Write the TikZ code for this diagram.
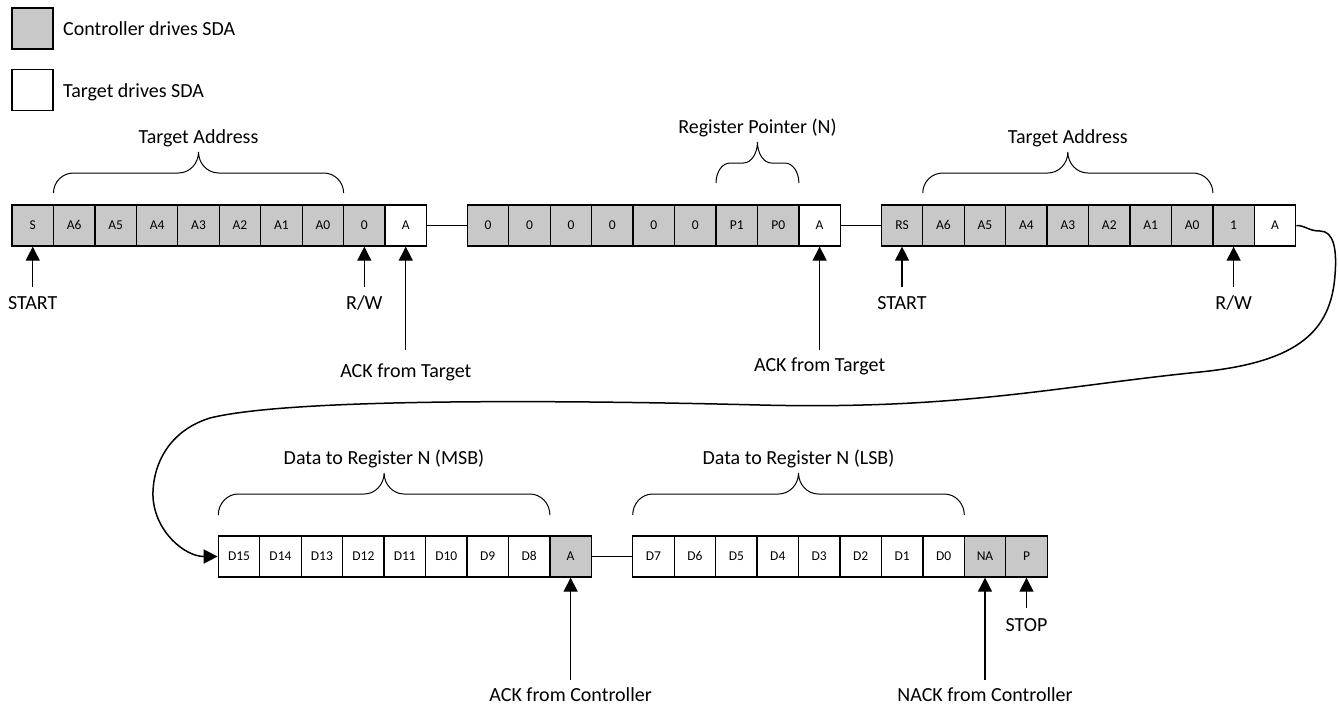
\documentclass[tikz,border=0pt]{standalone}
\usepackage{fontspec}
\setmainfont{Carlito}
\usetikzlibrary{arrows.meta,calc}
\definecolor{cgray}{RGB}{200,200,200}
% brace: xL, xR, yb (ends), ys (straight part), yt (tip), r (corner radius)
\newcommand\drawbrace[6]{%
  \pgfmathsetmacro\bxm{(#1+#2)/2}%
  \pgfmathsetmacro\bhA{0.552*(#3-#4)}%
  \pgfmathsetmacro\bhB{0.552*(#4-#5)}%
  \pgfmathsetmacro\bk{0.552*#6}%
  \draw[brc] (#1,#3) .. controls (#1,#3-\bhA) and ({#1+#6-\bk},#4) .. ({#1+#6},#4)
    -- ({\bxm-#6},#4)
    .. controls ({\bxm-#6+\bk},#4) and (\bxm,{#5+\bhB}) .. (\bxm,#5)
    .. controls (\bxm,{#5+\bhB}) and ({\bxm+#6-\bk},#4) .. ({\bxm+#6},#4)
    -- ({#2-#6},#4)
    .. controls ({#2-#6+\bk},#4) and (#2,#3-\bhA) .. (#2,#3);}
\begin{document}
\begin{tikzpicture}[x=1pt,y=-1pt,
  cellbase/.style={draw, line width=1.3pt, minimum width=41.45pt, minimum height=41pt,
    inner sep=0pt, text height=8.8pt, text depth=0pt, font=\fontsize{13.5}{13.5}\selectfont},
  cellc/.style={cellbase, fill=cgray},
  cellt/.style={cellbase, fill=white},
  lbl/.style={inner sep=0pt, anchor=base, font=\fontsize{20}{24}\selectfont},
  conn/.style={line width=1.3pt},
  arr/.style={line width=1.3pt, -{Triangle[length=14pt,width=14pt]}},
  brc/.style={line width=1pt},
  curvy/.style={line width=1.5pt, -{Triangle[length=14pt,width=14pt]}}]
\useasboundingbox (0,0) rectangle (1338,704);
% legend
\node[cellc, minimum width=41pt] (legc) at (32.5,28.5) {};
\node[cellt, minimum width=41pt] (legt) at (32.5,90) {};
\node[lbl, anchor=base west] (legctext) at (63,35) {Controller drives SDA};
\node[lbl, anchor=base west] (legttext) at (63,97) {Target drives SDA};
% row 1
\foreach \t/\s [count=\i] in {S/cellc,A6/cellc,A5/cellc,A4/cellc,A3/cellc,A2/cellc,A1/cellc,A0/cellc,0/cellc,A/cellt}
  \node[\s] (a\i) at ({12+(\i-0.5)*41.45},225.5) {\t};
\foreach \t/\s [count=\i] in {0/cellc,0/cellc,0/cellc,0/cellc,0/cellc,0/cellc,P1/cellc,P0/cellc,A/cellt}
  \node[\s] (b\i) at ({467.3+(\i-0.5)*41.45},225.5) {\t};
\foreach \t/\s [count=\i] in {RS/cellc,A6/cellc,A5/cellc,A4/cellc,A3/cellc,A2/cellc,A1/cellc,A0/cellc,1/cellc,A/cellt}
  \node[\s] (c\i) at ({881.3+(\i-0.5)*41.45},225.5) {\t};
% row 2
\foreach \t/\s [count=\i] in {D15/cellt,D14/cellt,D13/cellt,D12/cellt,D11/cellt,D10/cellt,D9/cellt,D8/cellt,A/cellc}
  \node[\s] (d\i) at ({218.3+(\i-0.5)*41.45},556.5) {\t};
\foreach \t/\s [count=\i] in {D7/cellt,D6/cellt,D5/cellt,D4/cellt,D3/cellt,D2/cellt,D1/cellt,D0/cellt,NA/cellc,P/cellc}
  \node[\s] (e\i) at ({632.7+(\i-0.5)*41.45},556.5) {\t};
% links between groups
\draw[conn] (a10.east) -- (b1.west);
\draw[conn] (b9.east) -- (c1.west);
\draw[conn] (d9.east) -- (e1.west);
% braces and their labels
\drawbrace{53.45}{343.6}{193}{173}{152}{20}
\drawbrace{716}{798.9}{183}{163}{142}{14}
\drawbrace{922.75}{1212.9}{193}{173}{152}{20}
\drawbrace{218.3}{549.9}{515}{494}{473}{20}
\drawbrace{632.7}{964.3}{515}{494}{473}{20}
\node[lbl] (ta1) at (198.5,143) {Target Address};
\node[lbl] (rp) at (757.5,133) {Register Pointer (N)};
\node[lbl] (ta2) at (1067.8,143) {Target Address};
\node[lbl] (msb) at (384,464) {Data to Register N (MSB)};
\node[lbl] (lsb) at (798.5,464) {Data to Register N (LSB)};
% arrows with labels
\coordinate (s1) at (a1.south |- 0,287);
\coordinate (s2) at (a9.south |- 0,287);
\coordinate (s3) at (a10.south |- 0,350);
\coordinate (s4) at (b9.south |- 0,350);
\coordinate (s5) at (c1.south |- 0,287);
\coordinate (s6) at (c9.south |- 0,287);
\coordinate (s7) at (d9.south |- 0,680);
\coordinate (s8) at (e9.south |- 0,680);
\coordinate (s9) at (e10.south |- 0,608);
\draw[arr] (s1) -- (a1.south);
\draw[arr] (s2) -- (a9.south);
\draw[arr] (s3) -- (a10.south);
\draw[arr] (s4) -- (b9.south);
\draw[arr] (s5) -- (c1.south);
\draw[arr] (s6) -- (c9.south);
\draw[arr] (s7) -- (d9.south);
\draw[arr] (s8) -- (e9.south);
\draw[arr] (s9) -- (e10.south);
\node[lbl] (l1) at ($(s1)+(0,22)$) {START};
\node[lbl] (l2) at ($(s2)+(0,22)$) {R/W};
\node[lbl] (l3) at ($(s3)+(0,27)$) {ACK from Target};
\node[lbl] (l4) at ($(s4)+(0,21)$) {ACK from Target};
\node[lbl] (l5) at ($(s5)+(0,22)$) {START};
\node[lbl] (l6) at ($(s6)+(0,22)$) {R/W};
\node[lbl] (l7) at ($(s7)+(0,21)$) {ACK from Controller};
\node[lbl] (l8) at ($(s8)+(0,21)$) {NACK from Controller};
\node[lbl] (l9) at ($(s9)+(0,23)$) {STOP};
% long curve from first row to second row
\draw[curvy] (c10.east) .. controls (1306,225.5) and (1308,231) .. (1320,231)
  .. controls (1334,231) and (1337,250) .. (1335,275)
  .. controls (1331,330) and (1300,362) .. (1200,372)
  .. controls (1060,386) and (960,410) .. (760,405)
  .. controls (560,400) and (290,398) .. (210,418)
  .. controls (165,432) and (152,470) .. (153,497)
  .. controls (155,532) and (185,556.5) .. (d1.west);
\end{tikzpicture}
\end{document}
